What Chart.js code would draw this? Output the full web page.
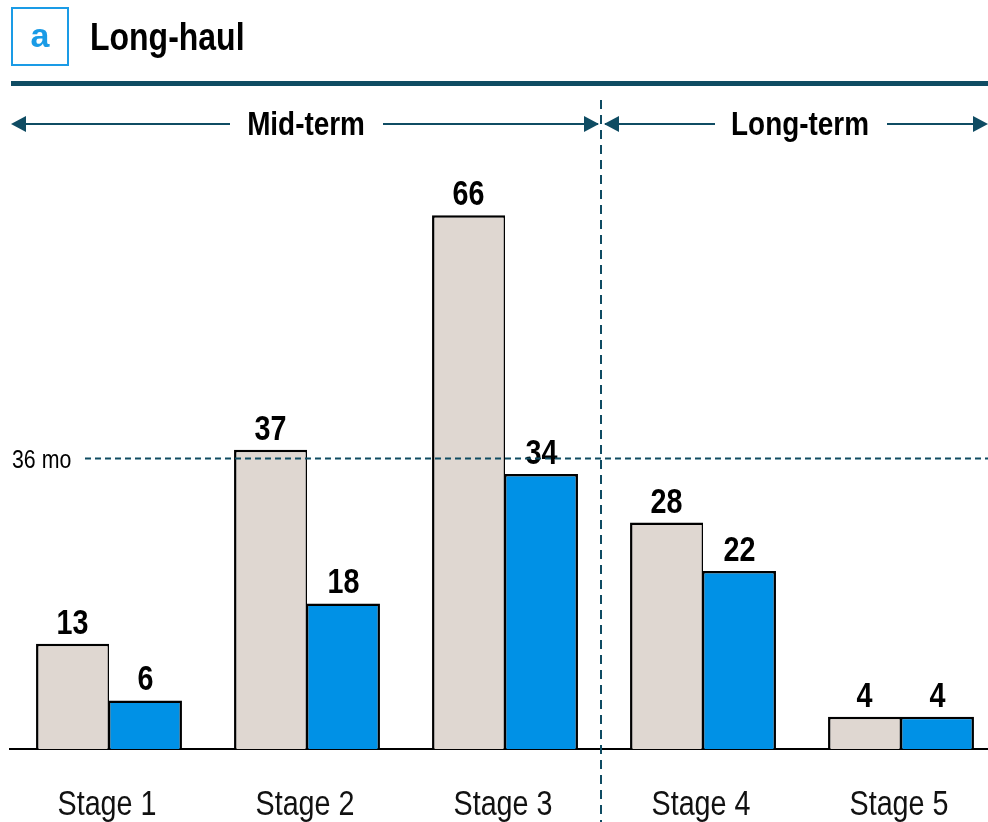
<!DOCTYPE html>
<html>
<head>
<meta charset="utf-8">
<title>Long-haul</title>
<script src="https://cdn.jsdelivr.net/npm/chart.js@4.4.1/dist/chart.umd.min.js"></script>
<style>
  html, body { margin: 0; padding: 0; background: #fff; overflow: hidden; }
  #wrap { position: relative; width: 1000px; height: 822px; }
</style>
</head>
<body>
<div id="wrap"><canvas id="stageChart" width="1000" height="822"></canvas></div>
<script>
// Months per stage, two scenarios
const stages = ['Stage 1', 'Stage 2', 'Stage 3', 'Stage 4', 'Stage 5'];
const baseMonths = [13, 37, 66, 28, 4];
const reducedMonths = [6, 18, 34, 22, 4];
const thresholdMonths = 36;
const thresholdLabel = '36 mo';
const yMax = 80;

const FONT = "'Liberation Sans', Arial, sans-serif";
const SQUEEZE = 0.82; // condensed look
const TEAL = '#0f4c63';
const BLUE = '#0091e6';
const GREY = '#dfd7d1';

// condensed text: draw normally, then squeeze horizontally around the anchor
function narrowText(ctx, text, x, y, font, align, color, squeeze) {
  ctx.save();
  ctx.translate(x, y);
  ctx.scale(squeeze || SQUEEZE, 1);
  ctx.font = font;
  ctx.fillStyle = color || '#000';
  ctx.textAlign = align || 'center';
  ctx.textBaseline = 'alphabetic';
  ctx.fillText(text, 0, 0);
  ctx.restore();
}

// header: tag box, title, rule, mid/long-term arrows, threshold line
const headerPlugin = {
  id: 'header',
  afterDraw(chart) {
    const ctx = chart.ctx;
    const x = chart.scales.x, y = chart.scales.y;
    const split = (x.getPixelForValue(2) + x.getPixelForValue(3)) / 2 - 3;
    const right = 988;
    ctx.save();

    // tag box "a"
    ctx.strokeStyle = '#1a9be6';
    ctx.lineWidth = 2;
    ctx.strokeRect(12, 8, 56, 57);
    narrowText(ctx, 'a', 40, 47, "bold 34px " + FONT, 'center', '#1a9be6', 1);

    // title
    narrowText(ctx, 'Long-haul', 90, 50, "bold 39px " + FONT, 'left');

    // rule under title
    ctx.fillStyle = TEAL;
    ctx.fillRect(11, 81, right - 11, 5);

    // arrows
    const ay = 124;
    function head(tipX, dir) {
      ctx.beginPath();
      ctx.moveTo(tipX, ay);
      ctx.lineTo(tipX + dir * 15, ay - 8);
      ctx.lineTo(tipX + dir * 15, ay + 8);
      ctx.closePath();
      ctx.fill();
    }
    function seg(x1, x2) {
      ctx.beginPath();
      ctx.moveTo(x1, ay);
      ctx.lineTo(x2, ay);
      ctx.stroke();
    }
    ctx.strokeStyle = TEAL;
    ctx.fillStyle = TEAL;
    ctx.lineWidth = 2;
    seg(13, 230); head(11, 1);
    seg(383, split - 3); head(split - 2, -1);
    seg(split + 4, 715); head(split + 3, 1);
    seg(887, right - 2); head(right, -1);

    narrowText(ctx, 'Mid-term', 306, 135, "bold 34px " + FONT);
    narrowText(ctx, 'Long-term', 800, 135, "bold 34px " + FONT);

    // vertical split between mid and long term
    ctx.strokeStyle = TEAL;
    ctx.lineWidth = 2;
    ctx.setLineDash([9, 6]);
    ctx.beginPath();
    ctx.moveTo(split, 100);
    ctx.lineTo(split, 822);
    ctx.stroke();

    // threshold line
    const ty = Math.round(y.getPixelForValue(thresholdMonths)) + 0.5;
    ctx.setLineDash([6, 4]);
    ctx.beginPath();
    ctx.moveTo(85, ty);
    ctx.lineTo(right, ty);
    ctx.stroke();
    ctx.setLineDash([]);
    ctx.restore();

    narrowText(ctx, thresholdLabel, 12, ty + 9, "26px " + FONT, 'left');

    // category labels under the axis
    stages.forEach((s, i) => {
      narrowText(ctx, s, x.getPixelForValue(i) - 2, 815, "35px " + FONT, 'center', '#111');
    });
  }
};

// value labels above each bar
const valueLabels = {
  id: 'valueLabels',
  afterDatasetsDraw(chart) {
    const ctx = chart.ctx;
    chart.data.datasets.forEach((ds, i) => {
      chart.getDatasetMeta(i).data.forEach((bar, j) => {
        narrowText(ctx, String(ds.data[j]), bar.x, bar.y - 10, "bold 35px " + FONT);
      });
    });
  }
};

new Chart(document.getElementById('stageChart'), {
  type: 'bar',
  data: {
    labels: stages,
    datasets: [
      {
        data: baseMonths,
        backgroundColor: GREY,
        borderColor: '#000',
        borderWidth: { top: 2.5, left: 2.5, right: 1.5, bottom: 0 },
        borderSkipped: false
      },
      {
        data: reducedMonths,
        backgroundColor: BLUE,
        borderColor: '#000',
        borderWidth: { top: 2.5, left: 1.5, right: 2.5, bottom: 0 },
        borderSkipped: false
      }
    ]
  },
  options: {
    responsive: false,
    animation: false,
    layout: { padding: { left: 10, right: 0, top: 102, bottom: 73 } },
    datasets: { bar: { categoryPercentage: 0.737, barPercentage: 1.0 } },
    plugins: { legend: { display: false }, tooltip: { enabled: false } },
    scales: {
      x: {
        grid: { display: false, drawTicks: false },
        border: { display: true, color: '#000', width: 2 },
        ticks: { display: false }
      },
      y: {
        display: false,
        min: 0,
        max: yMax
      }
    }
  },
  plugins: [headerPlugin, valueLabels]
});
</script>
</body>
</html>
